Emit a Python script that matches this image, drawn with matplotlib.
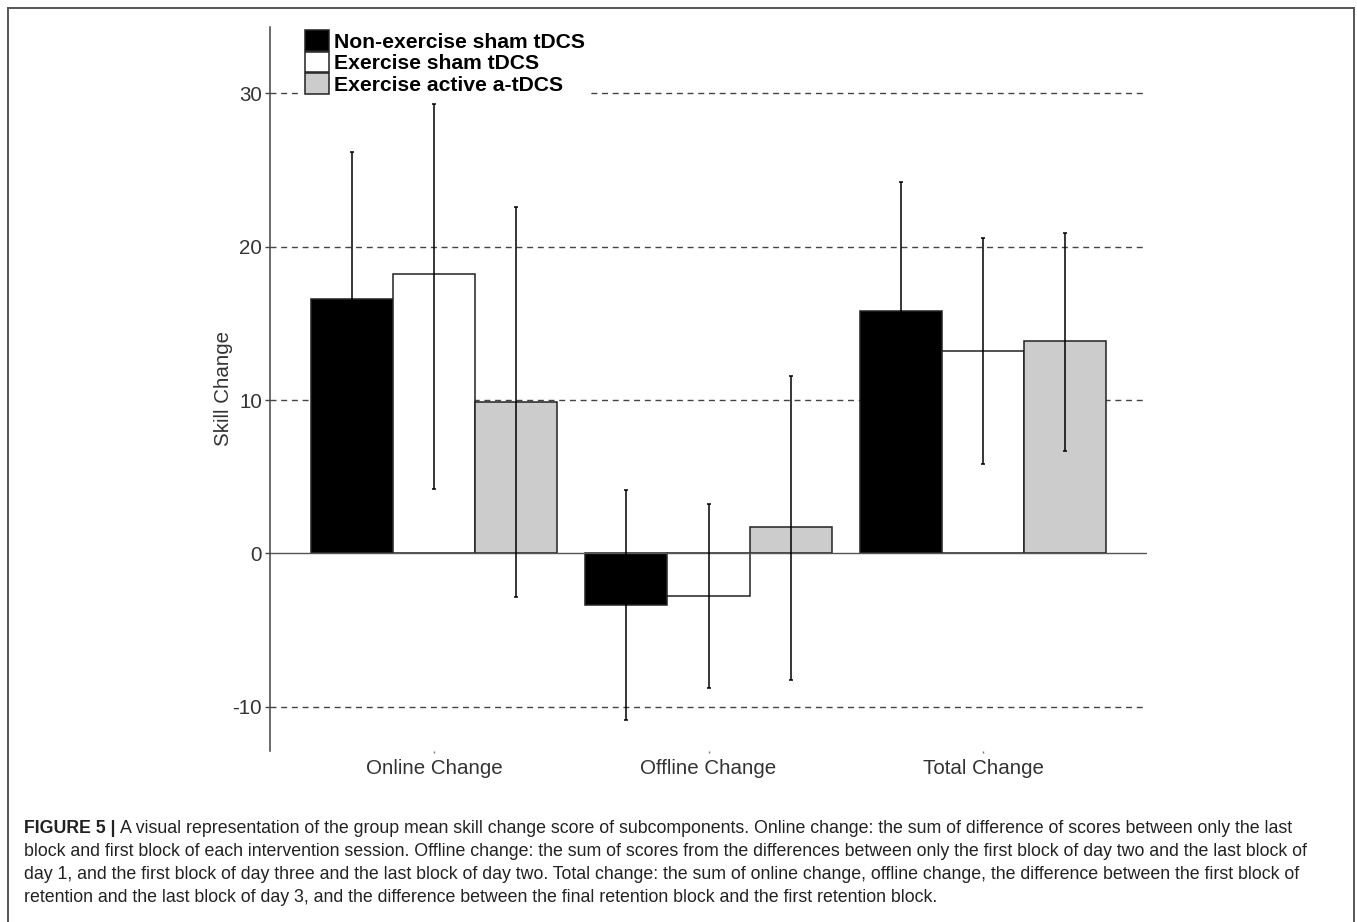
import matplotlib
matplotlib.use('Agg')
import matplotlib.pyplot as plt
from matplotlib.lines import Line2D
import numpy as np

plt.rcParams['font.family'] = ['Liberation Sans', 'DejaVu Sans']
plt.rcParams['axes.unicode_minus'] = False

# data
groups = ['Online Change', 'Offline Change', 'Total Change']
conditions = ['Non-exercise sham tDCS', 'Exercise sham tDCS', 'Exercise active a-tDCS']

nonex_mean = [16.57, -3.39, 15.80]
exsham_mean = [18.20, -2.79, 13.20]
exact_mean = [9.90, 1.72, 13.83]

# error bar ends (low / high)
nonex_lo = [6.94, -10.83, 7.40]
nonex_hi = [26.20, 4.13, 24.20]
exsham_lo = [4.20, -8.77, 5.83]
exsham_hi = [29.30, 3.24, 20.60]
exact_lo = [-2.83, -8.26, 6.69]
exact_hi = [22.60, 11.57, 20.90]

yticks = [-10, 0, 10, 20, 30]
dashed_levels = [-10, 10, 20, 30]

caption_head = "FIGURE 5 |"
caption_lines = [
    "A visual representation of the group mean skill change score of subcomponents. Online change: the sum of difference of scores between only the last",
    "block and first block of each intervention session. Offline change: the sum of scores from the differences between only the first block of day two and the last block of",
    "day 1, and the first block of day three and the last block of day two. Total change: the sum of online change, offline change, the difference between the first block of",
    "retention and the last block of day 3, and the difference between the final retention block and the first retention block.",
]

W, H = 1357, 922
fig = plt.figure(figsize=(W / 100, H / 100), dpi=100)
ax = fig.add_axes([270 / W, 1 - 751 / H, 877 / W, 724 / H])

x = np.arange(len(groups))
w = 0.2987
fills = ['black', 'white', '#cccccc']
means = [nonex_mean, exsham_mean, exact_mean]
lows = [nonex_lo, exsham_lo, exact_lo]
highs = [nonex_hi, exsham_hi, exact_hi]

handles = []
for i in range(3):
    m = np.array(means[i])
    lo = np.array(lows[i])
    hi = np.array(highs[i])
    pos = x + (i - 1) * w
    b = ax.bar(pos, m, w, color=fills[i], edgecolor='#222222', linewidth=1.1, zorder=2)
    handles.append(b)
    ax.errorbar(pos, m, yerr=[m - lo, hi - m], fmt='none', ecolor='black',
                elinewidth=1.1, capsize=1.6, capthick=1.1, zorder=3)

for v in dashed_levels:
    ax.axhline(v, color='#444444', lw=1.0, ls=(0, (4.3, 3.4)), zorder=1)
ax.axhline(0, color='#555555', lw=1.0, zorder=2.5)

ax.set_xlim(-0.597, 2.597)
ax.set_ylim(-12.88, 34.33)
ax.set_yticks(yticks)
ax.set_yticklabels([str(t) for t in yticks])
ax.set_xticks(x)
ax.set_xticklabels(groups)

for s in ['top', 'right', 'bottom']:
    ax.spines[s].set_visible(False)
ax.spines['left'].set_color('#444444')
ax.spines['left'].set_linewidth(1.1)

ax.tick_params(axis='y', length=3.6, width=1.0, color='#444444', pad=2.2,
               labelsize=14.8, labelcolor='#333333')
ax.tick_params(axis='x', length=1.5, width=1.0, color='#777777', pad=4,
               labelsize=14.8, labelcolor='#333333')

ax.set_ylabel('Skill Change', fontsize=14.8, color='#333333')
ax.yaxis.set_label_coords(-0.0422, 0.5)

leg = ax.legend(handles, conditions, loc='upper left',
                bbox_to_anchor=(300 / W, 1 - 25 / H), bbox_transform=fig.transFigure,
                borderaxespad=0, borderpad=0.25, labelspacing=0, handlelength=1.1,
                handleheight=1.12, handletextpad=0.25, frameon=True, fancybox=False,
                prop={'size': 15.2, 'weight': 'bold'})
leg.get_frame().set_facecolor('white')
leg.get_frame().set_edgecolor('none')
leg.get_frame().set_alpha(1)

# page border (open at bottom)
bc = '#555555'
fig.add_artist(Line2D([8 / W, 8 / W], [0, 1 - 8 / H], color=bc, lw=1.4))
fig.add_artist(Line2D([8 / W, 1354 / W], [1 - 8 / H, 1 - 8 / H], color=bc, lw=1.4))
fig.add_artist(Line2D([1354 / W, 1354 / W], [0, 1 - 8 / H], color=bc, lw=1.4))

# caption, sized so the longest line fills the width
renderer = fig.canvas.get_renderer()
probe = fig.text(0, 0, caption_lines[1], fontsize=12)
pw = probe.get_window_extent(renderer).width
probe.remove()
cap_fs = 12 * (1315 - 24) / pw

cap_y = [828, 851, 874, 897]
head = fig.text(24 / W, 1 - cap_y[0] / H, caption_head, fontsize=cap_fs,
                weight='bold', color='#222222', va='center')
hx = head.get_window_extent(renderer).x1
fig.text((hx + 5) / W, 1 - cap_y[0] / H, caption_lines[0], fontsize=cap_fs,
         color='#222222', va='center')
for line, yy in zip(caption_lines[1:], cap_y[1:]):
    fig.text(24 / W, 1 - yy / H, line, fontsize=cap_fs, color='#222222', va='center')

fig.savefig('out.png', dpi=100)
